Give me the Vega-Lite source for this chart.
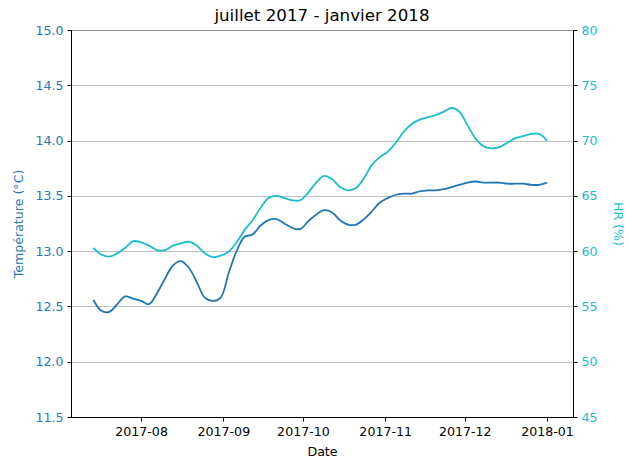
{
  "$schema": "https://vega.github.io/schema/vega-lite/v6.json",
  "width": 502,
  "height": 387,
  "autosize": {"type": "none"},
  "padding": {"left": 71, "top": 30, "right": 57, "bottom": 53},
  "background": "white",
  "title": {"text": "juillet 2017 - janvier 2018", "font": "DejaVu Sans", "fontSize": 16.7, "fontWeight": "normal", "color": "black", "offset": -1},
  "config": {
    "view": {"stroke": "black", "strokeWidth": 1},
    "axis": {
      "labelFont": "DejaVu Sans", "titleFont": "DejaVu Sans", "labelFontSize": 12.6, "titleFontSize": 12.6,
      "titleFontWeight": "normal", "domainColor": "black", "tickColor": "black", "tickSize": 4, "domainWidth": 1, "tickWidth": 1,
      "labelPadding": 4, "grid": false
    },
    "line": {"strokeWidth": 1.8}
  },
  "data": {"values": [
    {"date": "2017-07-14", "temp": 12.56, "hr": 60.3},
    {"date": "2017-07-17", "temp": 12.46, "hr": 59.7},
    {"date": "2017-07-20", "temp": 12.45, "hr": 59.5},
    {"date": "2017-07-23", "temp": 12.52, "hr": 59.8},
    {"date": "2017-07-26", "temp": 12.59, "hr": 60.3},
    {"date": "2017-07-29", "temp": 12.57, "hr": 60.9},
    {"date": "2017-08-01", "temp": 12.55, "hr": 60.8},
    {"date": "2017-08-04", "temp": 12.52, "hr": 60.5},
    {"date": "2017-08-07", "temp": 12.62, "hr": 60.1},
    {"date": "2017-08-10", "temp": 12.75, "hr": 60.1},
    {"date": "2017-08-13", "temp": 12.87, "hr": 60.5},
    {"date": "2017-08-16", "temp": 12.91, "hr": 60.7},
    {"date": "2017-08-19", "temp": 12.85, "hr": 60.85},
    {"date": "2017-08-22", "temp": 12.72, "hr": 60.5},
    {"date": "2017-08-25", "temp": 12.58, "hr": 59.8},
    {"date": "2017-08-28", "temp": 12.55, "hr": 59.45},
    {"date": "2017-08-31", "temp": 12.58, "hr": 59.6},
    {"date": "2017-09-03", "temp": 12.8, "hr": 59.95},
    {"date": "2017-09-06", "temp": 13.0, "hr": 60.8},
    {"date": "2017-09-09", "temp": 13.13, "hr": 61.9},
    {"date": "2017-09-12", "temp": 13.15, "hr": 62.8},
    {"date": "2017-09-15", "temp": 13.23, "hr": 63.9},
    {"date": "2017-09-18", "temp": 13.28, "hr": 64.8},
    {"date": "2017-09-21", "temp": 13.29, "hr": 65.0},
    {"date": "2017-09-24", "temp": 13.25, "hr": 64.8},
    {"date": "2017-09-27", "temp": 13.21, "hr": 64.6},
    {"date": "2017-09-30", "temp": 13.2, "hr": 64.6},
    {"date": "2017-10-03", "temp": 13.27, "hr": 65.3},
    {"date": "2017-10-06", "temp": 13.33, "hr": 66.2},
    {"date": "2017-10-09", "temp": 13.37, "hr": 66.8},
    {"date": "2017-10-12", "temp": 13.35, "hr": 66.5},
    {"date": "2017-10-15", "temp": 13.28, "hr": 65.8},
    {"date": "2017-10-18", "temp": 13.24, "hr": 65.5},
    {"date": "2017-10-21", "temp": 13.24, "hr": 65.7},
    {"date": "2017-10-24", "temp": 13.29, "hr": 66.6},
    {"date": "2017-10-27", "temp": 13.36, "hr": 67.8},
    {"date": "2017-10-30", "temp": 13.44, "hr": 68.5},
    {"date": "2017-11-02", "temp": 13.48, "hr": 69.0},
    {"date": "2017-11-05", "temp": 13.51, "hr": 69.8},
    {"date": "2017-11-08", "temp": 13.52, "hr": 70.8},
    {"date": "2017-11-11", "temp": 13.52, "hr": 71.5},
    {"date": "2017-11-14", "temp": 13.54, "hr": 71.9},
    {"date": "2017-11-17", "temp": 13.55, "hr": 72.1},
    {"date": "2017-11-20", "temp": 13.55, "hr": 72.3},
    {"date": "2017-11-23", "temp": 13.56, "hr": 72.6},
    {"date": "2017-11-26", "temp": 13.58, "hr": 72.95},
    {"date": "2017-11-29", "temp": 13.6, "hr": 72.6},
    {"date": "2017-12-02", "temp": 13.62, "hr": 71.4},
    {"date": "2017-12-05", "temp": 13.63, "hr": 70.2},
    {"date": "2017-12-08", "temp": 13.62, "hr": 69.5},
    {"date": "2017-12-11", "temp": 13.62, "hr": 69.3},
    {"date": "2017-12-14", "temp": 13.62, "hr": 69.4},
    {"date": "2017-12-17", "temp": 13.61, "hr": 69.8},
    {"date": "2017-12-20", "temp": 13.61, "hr": 70.2},
    {"date": "2017-12-23", "temp": 13.61, "hr": 70.4},
    {"date": "2017-12-26", "temp": 13.6, "hr": 70.6},
    {"date": "2017-12-29", "temp": 13.6, "hr": 70.6},
    {"date": "2018-01-01", "temp": 13.62, "hr": 70.0}
  ]},
  "encoding": {
    "x": {
      "field": "date", "type": "temporal", "title": "Date",
      "scale": {"type": "utc", "domain": [{"year": 2017, "month": 7, "date": 5, "hours": 14, "utc": true}, {"year": 2018, "month": 1, "date": 10, "hours": 19, "utc": true}], "nice": false},
      "axis": {"format": "%Y-%m", "tickCount": "month", "labelColor": "black", "titleColor": "black", "titlePadding": 8, "labelFlush": false}
    }
  },
  "layer": [
    {
      "mark": {"type": "line", "color": "#1f77b4", "interpolate": "catmull-rom"},
      "encoding": {
        "y": {
          "field": "temp", "type": "quantitative", "title": "Température (°C)",
          "scale": {"domain": [11.5, 15.0], "nice": false, "zero": false},
          "axis": {"values": [11.5, 12.0, 12.5, 13.0, 13.5, 14.0, 14.5, 15.0], "format": ".1f", "labelColor": "#1f77b4", "titleColor": "#1f77b4", "grid": true, "gridColor": "#b0b0b0", "gridWidth": 0.8, "titlePadding": 9}
        }
      }
    },
    {
      "mark": {"type": "line", "color": "#17becf", "interpolate": "catmull-rom"},
      "encoding": {
        "y": {
          "field": "hr", "type": "quantitative", "title": "HR (%)",
          "scale": {"domain": [45, 80], "nice": false, "zero": false},
          "axis": {"orient": "right", "values": [45, 50, 55, 60, 65, 70, 75, 80], "labelColor": "#17becf", "titleColor": "#17becf", "grid": false, "titlePadding": 13}
        }
      }
    }
  ],
  "resolve": {"scale": {"y": "independent"}}
}
